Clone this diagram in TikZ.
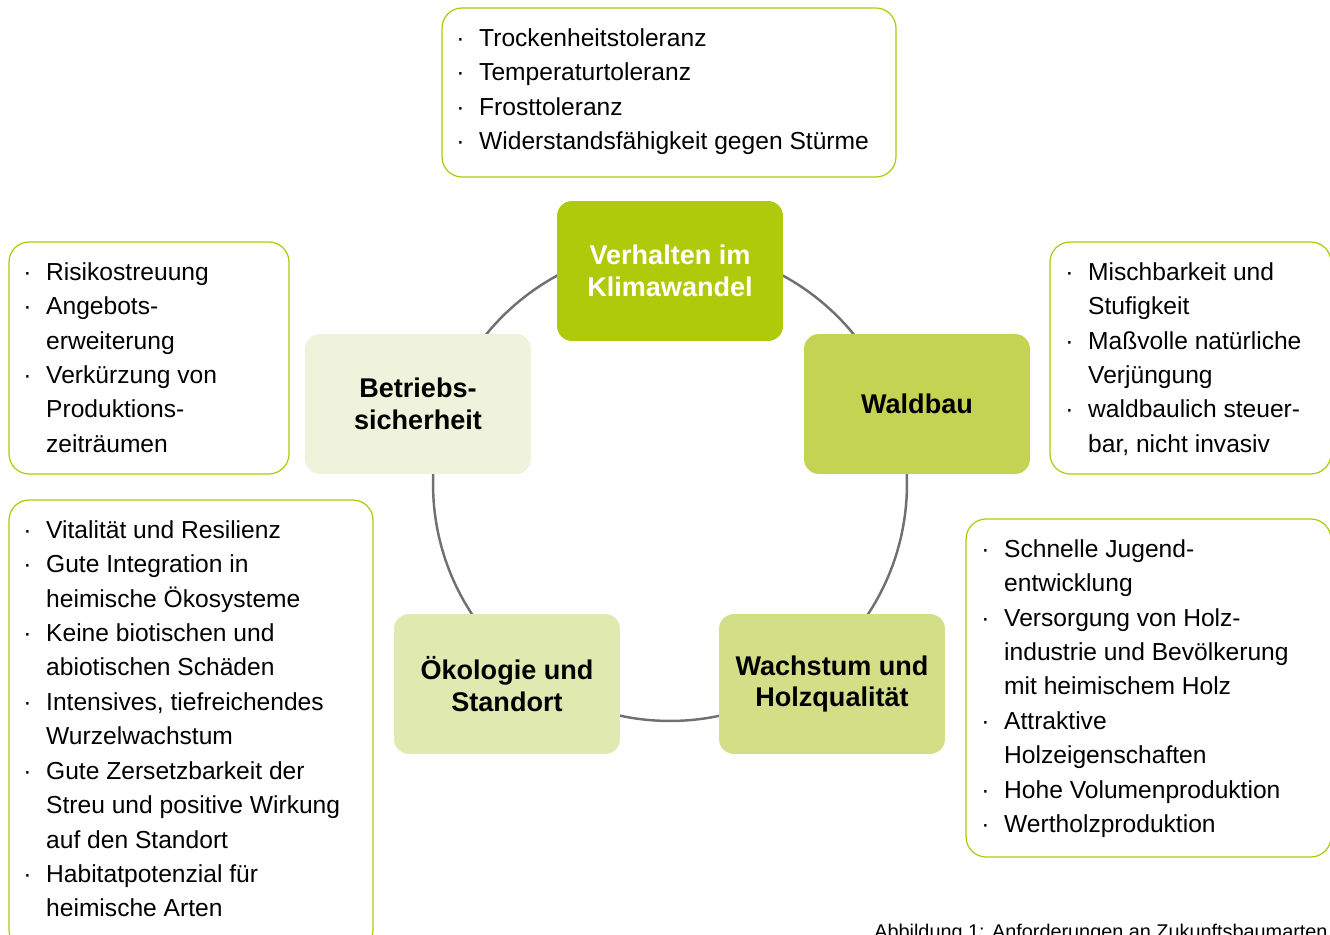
\documentclass[tikz,border=0pt]{standalone}
\usepackage{fontspec}
\setmainfont{Liberation Sans}

\definecolor{rahmen}{RGB}{175,202,11}
\definecolor{klima}{RGB}{175,202,11}
\definecolor{wald}{RGB}{196,212,82}
\definecolor{wachs}{RGB}{211,223,135}
\definecolor{oeko}{RGB}{224,233,175}
\definecolor{betrieb}{RGB}{239,243,220}
\definecolor{kreis}{RGB}{112,112,112}

\newcommand{\pkt}{\makebox[13pt][l]{·}}
\newcommand{\wei}{\hspace*{13pt}}

\tikzset{
  kern/.style={rounded corners=0.3cm, minimum width=4.52cm, minimum height=2.8cm,
    align=center, inner sep=0pt, font=\fontsize{15.4}{18.1}\selectfont\bfseries},
  liste/.style={draw=rahmen, line width=0.7pt, rounded corners=0.4cm, inner sep=0pt},
  punkte/.style={align=left, anchor=north west, inner sep=0pt,
    font=\fontsize{14}{19.6}\selectfont}
}

\begin{document}
\begin{tikzpicture}[x=0.02cm,y=-0.02cm]

\useasboundingbox (0,0) rectangle (1330,935);

% Kreis hinter den Kernfeldern
\coordinate (mitte) at (670,484);
\draw[kreis, line width=1.4pt] (mitte) circle (4.74cm);

% Kernfelder
\node[kern, fill=klima, text=white] (klima) at (670,271) {Verhalten im\\Klimawandel};
\node[kern, fill=wald] (wald) at (917,404) {Waldbau};
\node[kern, fill=betrieb] (betrieb) at (418,404) {Betriebs-\\sicherheit};
\node[kern, fill=oeko] (oeko) at (507,684) {Ökologie und\\Standort};
\node[kern, fill=wachs] (wachs) at (832,684) {Wachstum und\\Holzqualität};

% Rahmen der Listen
\node[liste, minimum width=9.08cm, minimum height=3.38cm] (klima-box) at (669,92.5) {};
\node[liste, minimum width=5.6cm, minimum height=4.64cm] (betrieb-box) at (149,358) {};
\node[liste, minimum width=5.62cm, minimum height=4.64cm] (wald-box) at (1190.5,358) {};
\node[liste, minimum width=7.28cm, minimum height=9cm] (oeko-box) at (191,725) {};
\node[liste, minimum width=7.3cm, minimum height=6.76cm] (wachs-box) at (1148.5,688) {};

% Listen
\node[punkte] (klima-text) at (456,28) {%
\pkt Trockenheitstoleranz\\
\pkt Temperaturtoleranz\\
\pkt Frosttoleranz\\
\pkt Widerstandsfähigkeit gegen Stürme};

\node[punkte] (betrieb-text) at (23,262) {%
\pkt Risikostreuung\\
\pkt Angebots-\\
\wei erweiterung\\
\pkt Verkürzung von\\
\wei Produktions-\\
\wei zeiträumen};

\node[punkte] (wald-text) at (1065,262) {%
\pkt Mischbarkeit und\\
\wei Stufigkeit\\
\pkt Maßvolle natürliche\\
\wei Verjüngung\\
\pkt waldbaulich steuer-\\
\wei bar, nicht invasiv};

\node[punkte] (oeko-text) at (23,520) {%
\pkt Vitalität und Resilienz\\
\pkt Gute Integration in\\
\wei heimische Ökosysteme\\
\pkt Keine biotischen und\\
\wei abiotischen Schäden\\
\pkt Intensives, tiefreichendes\\
\wei Wurzelwachstum\\
\pkt Gute Zersetzbarkeit der\\
\wei Streu und positive Wirkung\\
\wei auf den Standort\\
\pkt Habitatpotenzial für\\
\wei heimische Arten};

\node[punkte] (wachs-text) at (981,539) {%
\pkt Schnelle Jugend-\\
\wei entwicklung\\
\pkt Versorgung von Holz-\\
\wei industrie und Bevölkerung\\
\wei mit heimischem Holz\\
\pkt Attraktive\\
\wei Holzeigenschaften\\
\pkt Hohe Volumenproduktion\\
\pkt Wertholzproduktion};

% Bildunterschrift
\node[anchor=north west, inner sep=0pt, font=\fontsize{11.3}{13}\selectfont] (titel) at (874,924) {Abbildung 1: Anforderungen an Zukunftsbaumarten};

\end{tikzpicture}
\end{document}
